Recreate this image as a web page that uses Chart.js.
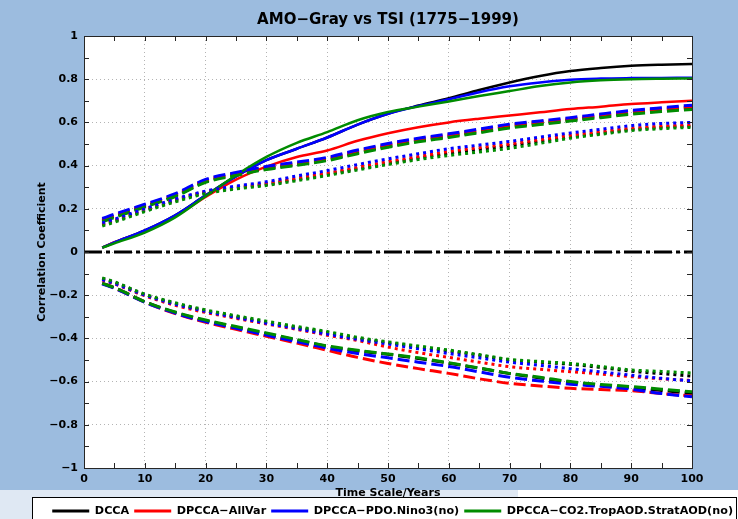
<!DOCTYPE html>
<html>
<head>
<meta charset="utf-8">
<title>AMO-Gray vs TSI</title>
<script src="https://cdn.jsdelivr.net/npm/chart.js@4/dist/chart.umd.min.js"></script>
<style>
  html, body { margin: 0; padding: 0; background: #9cbcdf; }
  canvas { display: block; }
</style>
</head>
<body>
<canvas id="corrChart" width="738" height="519"></canvas>
<script>
// time scales (years) where the coefficients are sampled
const years = [3, 5, 10, 15, 20, 25, 30, 35, 40, 45, 50, 55, 60, 65, 70, 75, 80, 85, 90, 95, 100];

const xTicks = [0, 10, 20, 30, 40, 50, 60, 70, 80, 90, 100];
const yTicks = [-1, -0.8, -0.6, -0.4, -0.2, 0, 0.2, 0.4, 0.6, 0.8, 1];

const seriesNames = ['DCCA', 'DPCCA\u2212AllVar', 'DPCCA\u2212PDO.Nino3(no)', 'DPCCA\u2212CO2.TropAOD.StratAOD(no)'];
const seriesColors = ['#000000', '#ff0000', '#0000ff', '#008c00'];

// solid curves
const dccaSolid   = [0.02, 0.045, 0.10, 0.17, 0.262, 0.35, 0.425, 0.478, 0.53, 0.59, 0.64, 0.678, 0.712, 0.75, 0.785, 0.815, 0.838, 0.852, 0.862, 0.867, 0.87];
const allVarSolid = [0.02, 0.045, 0.097, 0.165, 0.255, 0.335, 0.395, 0.44, 0.47, 0.515, 0.55, 0.578, 0.60, 0.617, 0.632, 0.647, 0.662, 0.673, 0.685, 0.693, 0.70];
const pdoSolid    = [0.02, 0.045, 0.10, 0.17, 0.262, 0.35, 0.425, 0.478, 0.53, 0.59, 0.64, 0.676, 0.707, 0.74, 0.767, 0.785, 0.798, 0.803, 0.805, 0.806, 0.807];
const co2Solid    = [0.02, 0.04, 0.09, 0.16, 0.258, 0.355, 0.44, 0.505, 0.555, 0.61, 0.648, 0.673, 0.697, 0.722, 0.745, 0.768, 0.785, 0.795, 0.80, 0.802, 0.803];

// dashed, upper branch
const dccaDashPos   = [0.145, 0.165, 0.212, 0.26, 0.326, 0.358, 0.386, 0.405, 0.427, 0.46, 0.49, 0.515, 0.535, 0.558, 0.58, 0.596, 0.612, 0.628, 0.645, 0.657, 0.668];
const allVarDashPos = [0.15, 0.17, 0.217, 0.266, 0.332, 0.364, 0.392, 0.411, 0.433, 0.467, 0.497, 0.522, 0.542, 0.564, 0.587, 0.602, 0.617, 0.634, 0.65, 0.662, 0.673];
const pdoDashPos    = [0.155, 0.175, 0.221, 0.27, 0.336, 0.368, 0.396, 0.416, 0.438, 0.472, 0.502, 0.527, 0.547, 0.569, 0.592, 0.607, 0.622, 0.639, 0.655, 0.668, 0.68];
const co2DashPos    = [0.14, 0.16, 0.208, 0.257, 0.322, 0.354, 0.382, 0.401, 0.423, 0.455, 0.485, 0.51, 0.53, 0.552, 0.574, 0.59, 0.606, 0.622, 0.638, 0.65, 0.66];

// dotted, upper branch
const dccaDotPos   = [0.126, 0.143, 0.192, 0.237, 0.275, 0.296, 0.313, 0.336, 0.36, 0.386, 0.411, 0.435, 0.457, 0.475, 0.492, 0.512, 0.533, 0.55, 0.567, 0.577, 0.583];
const allVarDotPos = [0.13, 0.148, 0.198, 0.243, 0.28, 0.30, 0.318, 0.342, 0.365, 0.392, 0.418, 0.442, 0.465, 0.483, 0.50, 0.52, 0.54, 0.557, 0.573, 0.582, 0.588];
const pdoDotPos    = [0.135, 0.152, 0.20, 0.245, 0.282, 0.305, 0.325, 0.352, 0.377, 0.405, 0.431, 0.455, 0.478, 0.495, 0.512, 0.532, 0.551, 0.568, 0.585, 0.595, 0.60];
const co2DotPos    = [0.12, 0.138, 0.187, 0.232, 0.27, 0.292, 0.308, 0.33, 0.354, 0.38, 0.405, 0.428, 0.447, 0.463, 0.48, 0.503, 0.527, 0.545, 0.562, 0.571, 0.577];

// dashed, lower branch
const dccaDashNeg   = [-0.145, -0.165, -0.23, -0.28, -0.318, -0.348, -0.378, -0.408, -0.437, -0.458, -0.474, -0.493, -0.515, -0.538, -0.563, -0.583, -0.603, -0.617, -0.627, -0.641, -0.655];
const allVarDashNeg = [-0.145, -0.167, -0.232, -0.285, -0.325, -0.358, -0.39, -0.422, -0.455, -0.488, -0.516, -0.54, -0.562, -0.587, -0.608, -0.62, -0.631, -0.637, -0.642, -0.655, -0.667];
const pdoDashNeg    = [-0.148, -0.168, -0.233, -0.283, -0.322, -0.353, -0.385, -0.415, -0.445, -0.47, -0.49, -0.51, -0.53, -0.555, -0.58, -0.597, -0.612, -0.622, -0.635, -0.655, -0.67];
const co2DashNeg    = [-0.145, -0.165, -0.23, -0.278, -0.315, -0.345, -0.375, -0.405, -0.435, -0.455, -0.472, -0.49, -0.513, -0.537, -0.562, -0.58, -0.60, -0.613, -0.623, -0.635, -0.647];

// dotted, lower branch
const dccaDotNeg   = [-0.122, -0.14, -0.197, -0.238, -0.272, -0.30, -0.325, -0.35, -0.373, -0.40, -0.42, -0.44, -0.458, -0.478, -0.50, -0.51, -0.52, -0.535, -0.552, -0.563, -0.575];
const allVarDotNeg = [-0.13, -0.148, -0.203, -0.247, -0.28, -0.307, -0.333, -0.358, -0.385, -0.41, -0.44, -0.466, -0.488, -0.51, -0.531, -0.543, -0.554, -0.565, -0.577, -0.587, -0.595];
const pdoDotNeg    = [-0.128, -0.146, -0.20, -0.242, -0.275, -0.303, -0.33, -0.355, -0.38, -0.405, -0.426, -0.448, -0.47, -0.49, -0.51, -0.525, -0.54, -0.555, -0.57, -0.585, -0.597];
const co2DotNeg    = [-0.12, -0.138, -0.195, -0.235, -0.268, -0.295, -0.32, -0.345, -0.368, -0.395, -0.416, -0.435, -0.454, -0.475, -0.497, -0.507, -0.516, -0.53, -0.546, -0.553, -0.56];

// zero reference line
const zeroLine = [{x: 0, y: 0}, {x: 100, y: 0}];

const FONT = 'DejaVu Sans';
const DASHED = [12, 5];
const DOTTED = [3, 4];

function toPoints(values) {
    return years.map(function(x, i) { return {x: x, y: values[i]}; });
}

function lineSet(k, values, dash, width) {
    return {
        label: seriesNames[k],
        data: toPoints(values),
        borderColor: seriesColors[k],
        backgroundColor: seriesColors[k],
        borderWidth: width,
        borderDash: dash,
        pointRadius: 0,
        tension: 0.4,
        cubicInterpolationMode: 'monotone',
        fill: false
    };
}

const datasets = [
    lineSet(0, dccaSolid, [], 2.5),
    lineSet(1, allVarSolid, [], 2.5),
    lineSet(2, pdoSolid, [], 2.5),
    lineSet(3, co2Solid, [], 2.5),

    lineSet(0, dccaDashPos, DASHED, 3),
    lineSet(1, allVarDashPos, DASHED, 3),
    lineSet(2, pdoDashPos, DASHED, 3),
    lineSet(3, co2DashPos, DASHED, 3),

    lineSet(0, dccaDotPos, DOTTED, 3),
    lineSet(1, allVarDotPos, DOTTED, 3),
    lineSet(2, pdoDotPos, DOTTED, 3),
    lineSet(3, co2DotPos, DOTTED, 3),

    lineSet(0, dccaDashNeg, DASHED, 3),
    lineSet(1, allVarDashNeg, DASHED, 3),
    lineSet(2, pdoDashNeg, DASHED, 3),
    lineSet(3, co2DashNeg, DASHED, 3),

    lineSet(0, dccaDotNeg, DOTTED, 3),
    lineSet(1, allVarDotNeg, DOTTED, 3),
    lineSet(2, pdoDotNeg, DOTTED, 3),
    lineSet(3, co2DotNeg, DOTTED, 3),

    {
        label: 'zero',
        data: zeroLine,
        borderColor: '#000000',
        borderWidth: 3,
        borderDash: [18, 4, 4, 4],
        pointRadius: 0,
        fill: false
    }
];
// later series sit on top, like the plotting order
datasets.forEach(function(d, i) { d.order = datasets.length - i; });

function fmtTick(v) {
    const r = Math.round(v * 10) / 10;
    return (r < 0 ? '\u2212' : '') + Math.abs(r);
}

// outer extent of the legend row, from the legend's own hit boxes
function legendFrame(chart) {
    const boxes = chart.legend && chart.legend.legendHitBoxes;
    if (!boxes || !boxes.length) return null;
    const lefts = boxes.map(function(b) { return b.left; });
    const rights = boxes.map(function(b) { return b.left + b.width; });
    return {
        left: Math.round(Math.min.apply(null, lefts) - 20) + 0.5,
        right: Math.round(Math.max.apply(null, rights) + 3) + 0.5,
        top: Math.round(boxes[0].top - 9) + 0.5
    };
}

// figure background, white axes area, white legend panel
const backdrop = {
    id: 'backdrop',
    beforeDraw(chart) {
        const ctx = chart.ctx;
        const a = chart.chartArea;
        ctx.save();
        ctx.fillStyle = '#9cbcdf';
        ctx.fillRect(0, 0, chart.width, chart.height);
        ctx.fillStyle = '#dfe8f3';
        ctx.fillRect(0, 490, 518, chart.height - 490);
        ctx.fillStyle = '#ffffff';
        ctx.fillRect(518, 490, chart.width - 518, chart.height - 490);
        ctx.fillRect(a.left, a.top, a.right - a.left, a.bottom - a.top);
        const f = legendFrame(chart);
        if (f) ctx.fillRect(f.left, f.top, f.right - f.left, chart.height - f.top);
        ctx.restore();
    }
};

// box around the axes with inward tick marks on all four sides
const axesBox = {
    id: 'axesBox',
    afterDraw(chart) {
        const ctx = chart.ctx;
        const a = chart.chartArea;
        const xs = chart.scales.x, ys = chart.scales.y;
        const len = 5;
        ctx.save();
        ctx.strokeStyle = '#262626';
        ctx.lineWidth = 1;
        ctx.beginPath();
        for (let v = 5; v < 100; v += 5) {
            const px = Math.round(xs.getPixelForValue(v)) + 0.5;
            ctx.moveTo(px, a.bottom); ctx.lineTo(px, a.bottom - len);
            ctx.moveTo(px, a.top); ctx.lineTo(px, a.top + len);
        }
        for (let k = -9; k <= 9; k++) {
            const py = Math.round(ys.getPixelForValue(k / 10)) + 0.5;
            ctx.moveTo(a.left, py); ctx.lineTo(a.left + len, py);
            ctx.moveTo(a.right, py); ctx.lineTo(a.right - len, py);
        }
        ctx.stroke();
        ctx.strokeRect(Math.round(a.left) + 0.5, Math.round(a.top) + 0.5,
            Math.round(a.right - a.left), Math.round(a.bottom - a.top));

        const f = legendFrame(chart);
        if (f) {
            ctx.strokeStyle = '#000000';
            ctx.strokeRect(f.left, f.top, f.right - f.left, chart.height + 5 - f.top);
        }
        ctx.restore();
    }
};

const ctx = document.getElementById('corrChart').getContext('2d');
const chart = new Chart(ctx, {
    type: 'line',
    data: { datasets: datasets },
    options: {
        responsive: false,
        animation: false,
        devicePixelRatio: 1,
        layout: { padding: 0 },
        plugins: {
            title: {
                display: true,
                text: 'AMO\u2212Gray vs TSI (1775\u22121999)',
                fullSize: false,
                color: '#000000',
                font: { family: FONT, size: 15, weight: 'bold' },
                padding: { top: 11, bottom: 7 }
            },
            legend: {
                position: 'bottom',
                align: 'end',
                maxHeight: 18.5,
                labels: {
                    color: '#000000',
                    font: { family: FONT, size: 11.2, weight: 'bold' },
                    boxWidth: 37,
                    boxHeight: 3,
                    padding: 5,
                    generateLabels: function(c) {
                        // one entry per series colour, in dataset order
                        return Chart.defaults.plugins.legend.labels.generateLabels(c)
                            .filter(function(item) { return item.datasetIndex < 4; })
                            .sort(function(p, q) { return p.datasetIndex - q.datasetIndex; })
                            .map(function(item) {
                                item.fillStyle = item.strokeStyle;
                                item.lineWidth = 0;
                                item.lineDash = [];
                                return item;
                            });
                    }
                }
            },
            tooltip: { enabled: false }
        },
        scales: {
            x: {
                type: 'linear',
                min: 0,
                max: 100,
                afterBuildTicks: function(s) { s.ticks = xTicks.map(function(v) { return {value: v}; }); },
                afterFit: function(s) { s.height = 32.5; },
                ticks: {
                    color: '#000000',
                    font: { family: FONT, size: 11, weight: 'bold' },
                    padding: 5,
                    maxRotation: 0,
                    callback: function(v) { return fmtTick(v); }
                },
                grid: { color: '#b4b4b4', lineWidth: 1, drawTicks: false },
                border: { display: false, dash: [1, 3] },
                title: {
                    display: true,
                    text: 'Time Scale/Years',
                    color: '#000000',
                    font: { family: FONT, size: 11, weight: 'bold' },
                    padding: { top: 0, bottom: 1 }
                }
            },
            y: {
                type: 'linear',
                min: -1,
                max: 1,
                afterBuildTicks: function(s) { s.ticks = yTicks.map(function(v) { return {value: v}; }); },
                afterFit: function(s) { s.width = 84; },
                ticks: {
                    color: '#000000',
                    font: { family: FONT, size: 11, weight: 'bold' },
                    padding: 6,
                    callback: function(v) { return fmtTick(v); }
                },
                grid: { color: '#b4b4b4', lineWidth: 1, drawTicks: false },
                border: { display: false, dash: [1, 3] },
                title: {
                    display: true,
                    text: 'Correlation Coefficient',
                    color: '#000000',
                    font: { family: FONT, size: 11, weight: 'bold' },
                    padding: { top: 36, bottom: 0 }
                }
            },
            yRight: {
                type: 'linear',
                position: 'right',
                display: true,
                ticks: { display: false },
                grid: { display: false, drawOnChartArea: false, drawTicks: false },
                border: { display: false },
                afterFit: function(s) { s.width = 46; }
            }
        }
    },
    plugins: [backdrop, axesBox]
});
</script>
</body>
</html>
